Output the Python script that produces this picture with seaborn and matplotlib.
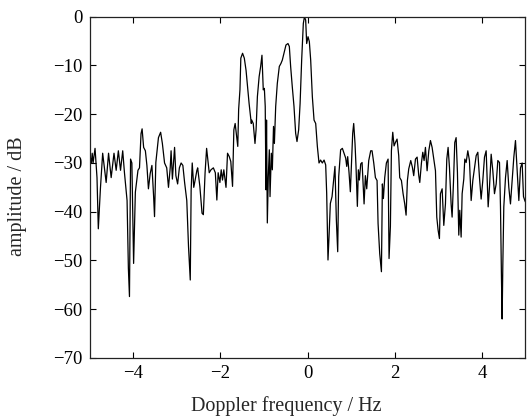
import matplotlib
matplotlib.use("Agg")
import matplotlib.pyplot as plt
import seaborn as sns
import pandas as pd

freq_hz = [
    -5.00, -4.98, -4.96, -4.94, -4.92, -4.875, -4.83, -4.80, -4.75, -4.70, -4.62, -4.565, -4.505,
    -4.44, -4.39, -4.34, -4.29, -4.24, -4.20, -4.14, -4.11, -4.085, -4.06, -4.03, -3.99, -3.95,
    -3.89, -3.855, -3.82, -3.795,
    -3.76, -3.72, -3.685, -3.65, -3.61, -3.57, -3.53, -3.51, -3.48, -3.42, -3.37, -3.33, -3.28,
    -3.23, -3.19, -3.15, -3.13, -3.10, -3.05, -3.02, -2.98, -2.94, -2.90, -2.86, -2.82, -2.77,
    -2.73, -2.69, -2.67, -2.645, -2.61, -2.58, -2.54,
    -2.52, -2.47, -2.42, -2.39, -2.35, -2.315, -2.285, -2.255, -2.215, -2.16, -2.115, -2.08,
    -2.05, -2.01, -1.98, -1.95, -1.92, -1.87, -1.835, -1.795, -1.76, -1.72, -1.69, -1.66, -1.63,
    -1.60, -1.58, -1.55, -1.53, -1.49, -1.45, -1.41, -1.375, -1.34, -1.29,
    -1.28, -1.245, -1.205, -1.18, -1.15, -1.11, -1.075, -1.045, -1.015, -0.99, -0.97, -0.953,
    -0.94, -0.922, -0.90, -0.876, -0.86, -0.83, -0.807, -0.78, -0.76, -0.73, -0.693, -0.647,
    -0.61, -0.578, -0.54, -0.494, -0.448, -0.417, -0.387, -0.35, -0.31, -0.272, -0.241, -0.203,
    -0.17, -0.134, -0.096,
    -0.07, -0.042, -0.019, 0.012, 0.042, 0.073, 0.111, 0.15, 0.188, 0.226, 0.264, 0.30, 0.34,
    0.38, 0.417, 0.44, 0.47, 0.494, 0.524, 0.563, 0.609, 0.63, 0.662, 0.693, 0.716, 0.76, 0.80,
    0.838, 0.876, 0.90, 0.922, 0.953, 0.983, 1.006, 1.037, 1.06, 1.09, 1.113, 1.144, 1.167, 1.19,
    1.221, 1.252, 1.275, 1.298, 1.328, 1.359, 1.405, 1.45, 1.481, 1.52, 1.558, 1.596, 1.619,
    1.657, 1.696, 1.718, 1.741, 1.772, 1.81, 1.849, 1.871, 1.902, 1.925, 1.956, 1.986, 2.017,
    2.055, 2.093, 2.116, 2.155, 2.193, 2.231, 2.262, 2.292, 2.323, 2.369, 2.407, 2.437,
    2.477, 2.515, 2.553, 2.576, 2.614, 2.645, 2.675, 2.706, 2.744, 2.783, 2.821, 2.859, 2.897,
    2.936, 2.966, 2.997, 3.027, 3.05, 3.089, 3.127, 3.165, 3.196, 3.226, 3.257, 3.295, 3.318,
    3.349, 3.379, 3.41, 3.44, 3.471, 3.494, 3.525, 3.548, 3.586, 3.609, 3.64, 3.678,
    3.716, 3.755, 3.793, 3.831, 3.87, 3.908, 3.946, 3.984, 4.022, 4.061, 4.099, 4.145, 4.175,
    4.214, 4.252, 4.29, 4.329, 4.367, 4.405, 4.428, 4.451, 4.466, 4.481, 4.504, 4.543, 4.581,
    4.619, 4.657, 4.696, 4.734, 4.772, 4.81, 4.849, 4.887, 4.925, 4.956, 4.986, 5.0,
]

amplitude_db = [
    -36, -29, -30, -28, -30, -27, -33, -43.5, -35, -28, -34, -28, -33,
    -28, -31.5, -27.5, -31.5, -27.5, -32, -37.7, -51.6, -57.4, -29.2, -30, -50.6, -36,
    -31.5, -31, -24, -23,
    -26.8, -27.5, -30.5, -35.3, -32.2, -30.5, -37, -41, -29.9, -24.8, -23.7, -26, -30,
    -31, -35, -31, -27.5, -33.3, -26.8, -32.6, -34.3, -31, -30, -30.5, -34, -37.7,
    -47.2, -54, -35.6, -30, -35, -33.6, -31.6,
    -31, -34.8, -40.3, -40.6, -32, -27, -29.4, -32, -31.4, -31, -32, -37.6,
    -32, -34, -31.4, -33.5, -31.4, -35, -28, -28.7, -29.7, -34.8, -23.2, -21.9, -24.2,
    -26.6, -19, -15, -8.5, -7.5, -8.5, -11, -14.3, -17.8, -21.9,
    -21.2, -21.9, -26, -23.2, -16.4, -12.3, -10.2, -7.9, -15, -14.7, -18.4, -35.5,
    -21.2, -42.3, -32.8, -27.3, -36.9, -28, -31.4, -22.5, -26, -18.4, -13.7, -10.2,
    -9.6, -8.9, -7.5, -5.8, -5.5, -6.1, -10.2, -14.3, -18.4, -23.9, -25.6, -23.2,
    -17.8, -8.9, -1.4,
    0, -0.7, -5.5, -4.1, -5.1, -8.9, -16.4, -21.2, -21.9, -26.6, -30, -29.4, -30,
    -29.4, -30.4, -36.2, -49.9, -45, -38.3, -36.9, -32.8, -30.7, -41.7, -48.2, -32.8, -27.3, -27,
    -28, -29, -30.7, -28.7, -32, -35.9, -30.7, -23.9, -21.9, -26, -30.7, -38.9, -31.4, -33.5,
    -30.2, -29.9, -34.3, -38.4, -32.6, -35.3, -29.5, -27.5, -27.5, -30, -33, -33.6, -42.4,
    -48.6, -52.3, -34.3, -37.3, -33, -30, -29.2, -49.6, -43, -27.5, -23.7, -26.5, -25.8,
    -25.1, -28.5, -33, -33.6, -36.3, -38.4, -40.7, -33.6, -31.2, -29.5, -30.9, -32.6,
    -29.2, -28.8, -32.6, -34, -30, -27.8, -29.5, -26.8, -31.6, -27.5, -25.4, -26.8, -29.2,
    -31.6, -41.1, -43.8, -45.5, -36.3, -35.3, -42.8, -38.4, -29.2, -26.8, -30.9, -38.4, -41.1,
    -34, -25.8, -24.8, -31.9, -44.8, -39.7, -45.2, -36.3, -33.3, -29.2, -29.9, -27.5,
    -29.5, -37.7, -33.6, -31, -28.5, -27.8, -33, -37.4, -33.6, -28.8, -27.5, -39, -35,
    -28.2, -31.6, -36.3, -34.3, -29.5, -29.9, -39, -54, -62, -51.2, -39, -33, -29.5,
    -35, -38.4, -33.6, -28.8, -25.4, -31.6, -37.7, -31, -30, -36.9, -37.7, -38,
]

x_ticks = [-4, -2, 0, 2, 4]
y_ticks = [0, -10, -20, -30, -40, -50, -60, -70]
x_label = "Doppler frequency / Hz"
y_label = "amplitude / dB"

sns.set_theme(style="ticks")
plt.rcParams["font.family"] = ["Liberation Serif", "DejaVu Serif"]
plt.rcParams["axes.unicode_minus"] = True

df = pd.DataFrame({"freq": freq_hz, "amp": amplitude_db})

fig = plt.figure(figsize=(5.27, 4.19), dpi=100)
ax = fig.add_axes([0.170, 0.1456, 0.827, 0.8145])

sns.lineplot(data=df, x="freq", y="amp", ax=ax, color="black", linewidth=0.9,
             estimator=None, sort=False)

ax.set_xlim(-5, 5)
ax.set_ylim(-70, 0)
ax.set_xticks(x_ticks)
ax.set_yticks(y_ticks)
ax.tick_params(direction="in", top=True, right=True, length=4, width=0.8,
               labelsize=13.5, colors="black", pad=5)
for s in ax.spines.values():
    s.set_visible(True)
    s.set_linewidth(0.9)
    s.set_color("#222222")
ax.set_xlabel(x_label, fontsize=14.5)
ax.set_ylabel(y_label, fontsize=14.5)
ax.xaxis.set_label_coords(0.451, -0.111)
ax.yaxis.set_label_coords(-0.143, 0.475)

fig.savefig("out.png", dpi=100)
